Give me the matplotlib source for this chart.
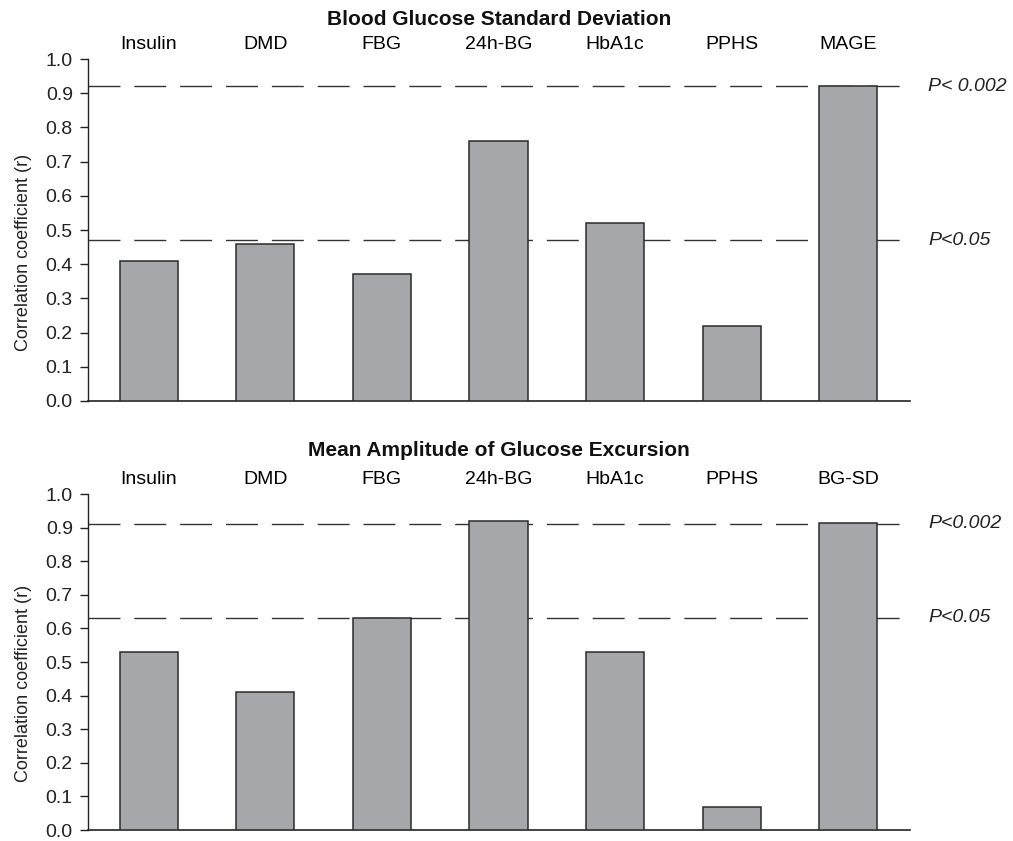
import matplotlib
matplotlib.use("Agg")
import matplotlib.pyplot as plt

plt.rcParams['font.family'] = ['Liberation Sans', 'DejaVu Sans']
plt.rcParams['lines.scale_dashes'] = False

# Data
top_labels = ["Insulin", "DMD", "FBG", "24h-BG", "HbA1c", "PPHS", "MAGE"]
top_r = [0.41, 0.46, 0.37, 0.76, 0.52, 0.22, 0.92]
top_thresholds = [0.92, 0.47]
top_threshold_labels = ["P< 0.002", "P<0.05"]

bot_labels = ["Insulin", "DMD", "FBG", "24h-BG", "HbA1c", "PPHS", "BG-SD"]
bot_r = [0.53, 0.41, 0.63, 0.92, 0.53, 0.07, 0.915]
bot_thresholds = [0.912, 0.632]
bot_threshold_labels = ["P<0.002", "P<0.05"]

titles = ["Blood Glucose Standard Deviation", "Mean Amplitude of Glucose Excursion"]

fig = plt.figure(figsize=(10.13, 8.41), dpi=100)
ax1 = fig.add_axes([0.0869, 0.5232, 0.8115, 0.4066])
ax2 = fig.add_axes([0.0869, 0.0130, 0.8115, 0.3996])


def draw(ax, labels, vals, thr, thr_lab, title, title_y):
    x = range(len(labels))
    ax.bar(x, vals, width=0.5, color="#a6a7ab", edgecolor="#2b2b2b",
           linewidth=1.1, zorder=3)
    for t, lab in zip(thr, thr_lab):
        ax.axhline(t, color="#333333", linewidth=1.0, dashes=(23, 10), zorder=1)
        ax.text(1.022, t, lab, transform=ax.get_yaxis_transform(),
                fontsize=14, style="italic", va="center", ha="left",
                color="#222222", clip_on=False)
    ax.set_xlim(-0.52, 6.53)
    ax.set_ylim(0, 1.0)
    ax.set_yticks([i / 10 for i in range(11)])
    ax.set_yticklabels([f"{i / 10:.1f}" for i in range(11)], fontsize=14)
    ax.xaxis.tick_top()
    ax.set_xticks(list(x))
    ax.set_xticklabels(labels, fontsize=14)
    ax.tick_params(axis="x", length=0, pad=4)
    ax.tick_params(axis="y", length=6, width=1, direction="out", pad=5,
                   colors="#222222")
    for s in ["top", "right"]:
        ax.spines[s].set_visible(False)
    ax.spines["left"].set_color("#222222")
    ax.spines["bottom"].set_color("#222222")
    ax.spines["left"].set_linewidth(1.0)
    ax.spines["bottom"].set_linewidth(1.2)
    ax.set_ylabel("Correlation coefficient (r)", fontsize=13, color="#222222")
    ax.yaxis.set_label_coords(-0.068, 0.435)
    ax.text(0.5, title_y, title, transform=ax.transAxes, fontsize=15,
            fontweight="bold", ha="center", va="center", color="#111111")


draw(ax1, top_labels, top_r, top_thresholds, top_threshold_labels, titles[0], 1.117)
draw(ax2, bot_labels, bot_r, bot_thresholds, bot_threshold_labels, titles[1], 1.128)

fig.savefig("out.png", dpi=100)
